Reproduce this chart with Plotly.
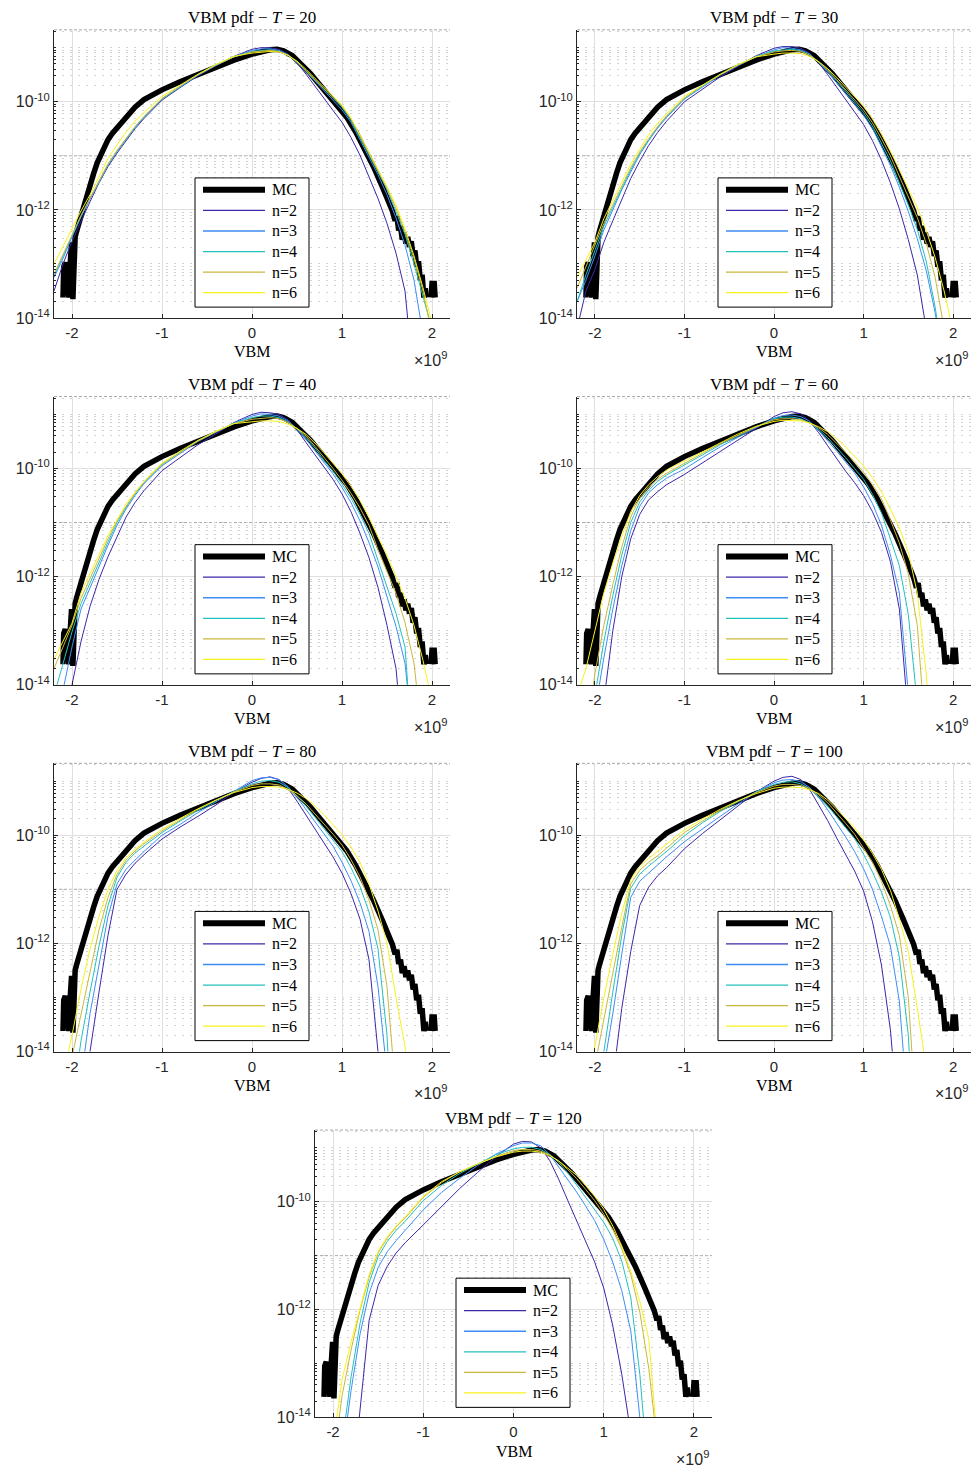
import plotly.graph_objects as go

W, H = 972, 1476

# ---------------- data (VBM in units of 1e9, pdf as log10 values) ----------------
VBM_GRID_E9 = [-2.2, -2.1, -2.0, -1.9, -1.8, -1.7, -1.6, -1.5, -1.4, -1.3, -1.2,
               -1.0, -0.8, -0.6, -0.4, -0.2,
               0.0, 0.1, 0.2, 0.3, 0.4, 0.5, 0.6, 0.7, 0.8, 0.9, 1.0, 1.1, 1.2, 1.3,
               1.4, 1.5, 1.6, 1.7, 1.8, 1.9, 2.0, 2.1, 2.2]

MC_VBM_E9 = [-2.100, -2.092, -2.075, -2.060, -2.048, -2.035, -2.020, -2.005, -1.990, -1.978,
             -1.965, -1.950, -1.930, -1.900, -1.870, -1.840, -1.800, -1.760, -1.720, -1.680,
             -1.640, -1.600, -1.550, -1.500, -1.450, -1.400, -1.300, -1.200, -1.100, -1.000,
             -0.800, -0.600, -0.400, -0.200, 0.000, 0.100, 0.200, 0.280, 0.350, 0.450,
             0.550, 0.650, 0.750, 0.850, 0.950, 1.050, 1.150, 1.250, 1.350, 1.450,
             1.520, 1.560, 1.590, 1.610, 1.630, 1.650, 1.670, 1.690, 1.710, 1.730,
             1.750, 1.770, 1.790, 1.810, 1.830, 1.850, 1.870, 1.890, 1.910, 1.925,
             1.940, None, 1.990, 2.000, 2.025, 2.035]
MC_LOG10_PDF = [-13.62, -13.05, -12.97, -13.25, -13.35, -13.62, -13.00, -12.60, -13.65, -12.70,
                -12.50, -12.40, -12.28, -12.10, -11.92, -11.75, -11.55, -11.33, -11.13, -10.97,
                -10.83, -10.70, -10.58, -10.48, -10.37, -10.27, -10.10, -9.96, -9.86, -9.78,
                -9.63, -9.49, -9.35, -9.23, -9.12, -9.07, -9.04, -9.03, -9.06, -9.15,
                -9.30, -9.48, -9.68, -9.88, -10.06, -10.28, -10.55, -10.87, -11.20, -11.58,
                -11.85, -12.02, -12.20, -12.12, -12.38, -12.30, -12.55, -12.42, -12.62, -12.50,
                -12.68, -12.58, -12.85, -12.75, -13.05, -12.95, -13.30, -13.20, -13.62, -13.45,
                -13.62, None, -13.62, -13.36, -13.36, -13.62]

T20_N2 = [-13.5, -13.0, -12.58, -12.2, -11.85, -11.5, -11.2, -10.95, -10.72, -10.5, -10.31,
          -9.97, -9.74, -9.52, -9.33, -9.16,
          -9.03, -9.0, -9.0, -9.03, -9.12, -9.28, -9.49, -9.72, -9.95, -10.16, -10.38, -10.66, -10.99, -11.38,
          -11.79, -12.25, -12.8, -13.5, -15.2, -16, -16, -16, -16]
T20_N3 = [-13.25, -12.9, -12.5, -12.13, -11.8, -11.47, -11.17, -10.92, -10.69, -10.48, -10.29,
          -9.95, -9.73, -9.51, -9.33, -9.17,
          -9.05, -9.02, -9.02, -9.05, -9.13, -9.27, -9.44, -9.62, -9.8, -9.98, -10.15, -10.38, -10.7, -11.0,
          -11.35, -11.72, -12.15, -12.65, -13.3, -14.3, -16, -16, -16]
T20_N4 = [-13.22, -12.85, -12.48, -12.12, -11.79, -11.46, -11.16, -10.91, -10.68, -10.47, -10.28,
          -9.95, -9.72, -9.5, -9.32, -9.17,
          -9.07, -9.05, -9.04, -9.07, -9.14, -9.27, -9.43, -9.6, -9.77, -9.94, -10.1, -10.35, -10.68, -10.98,
          -11.3, -11.62, -12.03, -12.45, -13.0, -13.62, -14.2, -16, -16]
T20_N5 = [-13.19, -12.82, -12.46, -12.1, -11.78, -11.45, -11.15, -10.9, -10.67, -10.46, -10.27,
          -9.94, -9.71, -9.5, -9.32, -9.17,
          -9.08, -9.06, -9.05, -9.07, -9.14, -9.26, -9.42, -9.59, -9.76, -9.92, -10.08, -10.32, -10.64, -10.95,
          -11.27, -11.6, -11.97, -12.4, -12.9, -13.5, -14.3, -16, -16]
T20_N6 = [-13.0, -12.67, -12.34, -12.02, -11.72, -11.38, -11.05, -10.8, -10.56, -10.36, -10.2,
          -9.9, -9.69, -9.49, -9.31, -9.16,
          -9.1, -9.08, -9.07, -9.08, -9.14, -9.25, -9.4, -9.57, -9.74, -9.9, -10.06, -10.3, -10.62, -10.92,
          -11.25, -11.57, -11.91, -12.35, -12.85, -13.44, -14.1, -16, -16]

T30_N2 = [-14.2, -13.5, -13.1, -12.6, -12.2, -11.8, -11.42, -11.1, -10.81, -10.57, -10.36,
          -10.0, -9.77, -9.54, -9.34, -9.15,
          -9.01, -8.98, -8.98, -9.01, -9.11, -9.28, -9.5, -9.73, -9.96, -10.18, -10.42, -10.72, -11.08, -11.5,
          -11.98, -12.55, -13.2, -14.2, -16, -16, -16, -16, -16]
T30_N3 = [-13.7, -13.3, -12.85, -12.37, -12.0, -11.63, -11.3, -10.98, -10.72, -10.49, -10.29,
          -9.95, -9.73, -9.51, -9.33, -9.17,
          -9.04, -9.0, -9.01, -9.04, -9.12, -9.27, -9.45, -9.64, -9.84, -10.04, -10.25, -10.5, -10.83, -11.18,
          -11.58, -12.03, -12.53, -13.12, -13.9, -15.0, -16, -16, -16]
T30_N4 = [-13.7, -13.2, -12.75, -12.3, -11.95, -11.59, -11.26, -10.95, -10.7, -10.47, -10.27,
          -9.94, -9.71, -9.5, -9.32, -9.16,
          -9.06, -9.04, -9.03, -9.06, -9.14, -9.27, -9.43, -9.61, -9.81, -10.0, -10.2, -10.45, -10.77, -11.09,
          -11.5, -11.91, -12.36, -12.95, -13.8, -15.0, -16, -16, -16]
T30_N5 = [-13.45, -13.05, -12.68, -12.25, -11.9, -11.55, -11.22, -10.93, -10.68, -10.46, -10.26,
          -9.93, -9.7, -9.5, -9.32, -9.17,
          -9.08, -9.06, -9.05, -9.07, -9.14, -9.26, -9.41, -9.59, -9.77, -9.96, -10.15, -10.39, -10.68, -11.0,
          -11.38, -11.75, -12.14, -12.62, -13.25, -14.2, -16, -16, -16]
T30_N6 = [-13.25, -12.92, -12.6, -12.16, -11.83, -11.48, -11.15, -10.88, -10.61, -10.4, -10.22,
          -9.9, -9.69, -9.49, -9.31, -9.17,
          -9.12, -9.1, -9.1, -9.11, -9.16, -9.26, -9.39, -9.55, -9.73, -9.9, -10.08, -10.32, -10.6, -10.91,
          -11.26, -11.59, -11.96, -12.38, -12.88, -13.5, -14.25, -16, -16]

T40_N2 = [-16, -16, -14.0, -13.2, -12.55, -12.05, -11.63, -11.25, -10.9, -10.63, -10.41,
          -10.04, -9.8, -9.56, -9.36, -9.15,
          -9.0, -8.96, -8.97, -9.0, -9.1, -9.28, -9.52, -9.75, -9.98, -10.2, -10.47, -10.8, -11.2, -11.65,
          -12.2, -12.9, -13.7, -15.5, -16, -16, -16, -16, -16]
T40_N3 = [-16, -14.1, -13.3, -12.6, -12.21, -11.8, -11.42, -11.05, -10.75, -10.5, -10.28,
          -9.95, -9.72, -9.5, -9.33, -9.16,
          -9.03, -8.99, -9.0, -9.03, -9.12, -9.27, -9.46, -9.67, -9.89, -10.1, -10.35, -10.63, -10.97, -11.37,
          -11.82, -12.35, -12.92, -13.6, -15.2, -16, -16, -16, -16]
T40_N4 = [-14.2, -13.6, -13.02, -12.5, -12.12, -11.72, -11.36, -11.0, -10.72, -10.47, -10.26,
          -9.93, -9.7, -9.49, -9.32, -9.16,
          -9.06, -9.03, -9.03, -9.06, -9.14, -9.27, -9.43, -9.62, -9.85, -10.05, -10.29, -10.55, -10.85, -11.2,
          -11.7, -12.2, -12.68, -13.3, -15.6, -16, -16, -16, -16]
T40_N5 = [-13.7, -13.3, -12.9, -12.4, -12.03, -11.65, -11.3, -10.97, -10.7, -10.46, -10.25,
          -9.92, -9.7, -9.49, -9.32, -9.17,
          -9.09, -9.07, -9.06, -9.08, -9.15, -9.26, -9.4, -9.59, -9.79, -10.0, -10.22, -10.46, -10.73, -11.05,
          -11.5, -11.9, -12.31, -12.85, -13.6, -15.1, -16, -16, -16]
T40_N6 = [-13.53, -13.2, -12.86, -12.3, -11.94, -11.57, -11.24, -10.95, -10.66, -10.44, -10.24,
          -9.9, -9.68, -9.48, -9.31, -9.17,
          -9.13, -9.12, -9.12, -9.13, -9.18, -9.26, -9.37, -9.53, -9.71, -9.9, -10.1, -10.33, -10.59, -10.9,
          -11.27, -11.6, -12.0, -12.4, -12.9, -13.55, -14.3, -16, -16]

T60_N2 = [-16, -16, -16, -14.3, -13.0, -12.0, -11.3, -10.85, -10.58, -10.43, -10.3,
          -10.11, -9.9, -9.68, -9.47, -9.26,
          -9.04, -8.97, -8.95, -8.99, -9.13, -9.34, -9.58, -9.82, -10.05, -10.26, -10.5, -10.8, -11.18, -11.72,
          -12.6, -14.6, -16, -16, -16, -16, -16, -16, -16]
T60_N3 = [-16, -16, -14.5, -13.5, -12.6, -11.8, -11.15, -10.7, -10.45, -10.3, -10.18,
          -10.01, -9.8, -9.6, -9.42, -9.24,
          -9.07, -9.02, -9.01, -9.04, -9.13, -9.3, -9.48, -9.68, -9.88, -10.08, -10.34, -10.65, -11.05, -11.6,
          -12.3, -14.2, -16, -16, -16, -16, -16, -16, -16]
T60_N4 = [-16, -16, -14.2, -13.2, -12.35, -11.6, -11.0, -10.62, -10.4, -10.24, -10.12,
          -9.94, -9.75, -9.56, -9.39, -9.23,
          -9.08, -9.05, -9.05, -9.08, -9.16, -9.28, -9.43, -9.61, -9.8, -10.0, -10.2, -10.48, -10.82, -11.3,
          -11.8, -12.7, -14.5, -16, -16, -16, -16, -16, -16]
T60_N5 = [-16, -15.0, -13.8, -12.9, -12.15, -11.45, -10.9, -10.55, -10.34, -10.2, -10.09,
          -9.9, -9.72, -9.54, -9.38, -9.23,
          -9.1, -9.08, -9.08, -9.1, -9.16, -9.25, -9.37, -9.53, -9.7, -9.88, -10.07, -10.3, -10.56, -10.95,
          -11.38, -11.95, -12.9, -15.1, -16, -16, -16, -16, -16]
T60_N6 = [-14.2, -13.7, -13.0, -12.3, -11.75, -11.25, -10.8, -10.5, -10.3, -10.15, -10.03,
          -9.86, -9.7, -9.52, -9.36, -9.22,
          -9.13, -9.11, -9.11, -9.12, -9.16, -9.23, -9.32, -9.45, -9.6, -9.77, -9.95, -10.17, -10.43, -10.75,
          -11.1, -11.55, -12.3, -13.8, -16, -16, -16, -16, -16]

T80_N2 = [-16, -16, -16, -15.5, -14.0, -12.9, -11.85, -11.0, -10.72, -10.52, -10.36,
          -10.07, -9.85, -9.65, -9.44, -9.2,
          -9.02, -8.95, -8.92, -8.97, -9.13, -9.37, -9.63, -9.9, -10.15, -10.4, -10.7, -11.08, -11.55, -12.3,
          -14.0, -16, -16, -16, -16, -16, -16, -16, -16]
T80_N3 = [-16, -16, -16, -14.5, -13.3, -12.4, -11.5, -10.9, -10.63, -10.46, -10.3,
          -10.0, -9.8, -9.58, -9.38, -9.18,
          -8.99, -8.94, -8.93, -8.97, -9.1, -9.3, -9.52, -9.74, -9.97, -10.2, -10.5, -10.84, -11.25, -11.78,
          -12.8, -14.5, -16, -16, -16, -16, -16, -16, -16]
T80_N4 = [-16, -16, -15.0, -13.8, -12.9, -12.05, -11.3, -10.78, -10.5, -10.33, -10.2,
          -9.95, -9.74, -9.54, -9.36, -9.19,
          -9.05, -9.0, -8.99, -9.02, -9.12, -9.27, -9.46, -9.67, -9.87, -10.07, -10.3, -10.6, -10.95, -11.42,
          -12.1, -13.7, -16.7, -16, -16, -16, -16, -16, -16]
T80_N5 = [-16, -16, -14.1, -13.3, -12.5, -11.75, -11.15, -10.72, -10.46, -10.29, -10.16,
          -9.92, -9.72, -9.52, -9.35, -9.2,
          -9.08, -9.05, -9.05, -9.07, -9.15, -9.27, -9.42, -9.6, -9.79, -9.98, -10.18, -10.45, -10.77, -11.2,
          -11.75, -12.8, -14.8, -16, -16, -16, -16, -16, -16]
T80_N6 = [-16, -14.45, -13.7, -12.85, -12.1, -11.5, -11.0, -10.65, -10.42, -10.26, -10.13,
          -9.89, -9.69, -9.51, -9.35, -9.21,
          -9.12, -9.1, -9.1, -9.11, -9.15, -9.22, -9.32, -9.46, -9.62, -9.8, -9.99, -10.22, -10.5, -10.9,
          -11.4, -12.0, -13.0, -13.9, -16, -16, -16, -16, -16]

T100_N2 = [-16, -16, -16, -16, -14.53, -13.2, -12.15, -11.3, -10.96, -10.75, -10.6,
           -10.25, -9.97, -9.71, -9.45, -9.2,
           -9.0, -8.93, -8.91, -8.97, -9.16, -9.44, -9.73, -10.05, -10.35, -10.66, -11.03, -11.6, -12.4, -13.6,
           -15.5, -16, -16, -16, -16, -16, -16, -16, -16]
T100_N3 = [-16, -16, -16, -14.3, -13.3, -12.2, -11.15, -10.85, -10.7, -10.56, -10.4,
           -10.12, -9.88, -9.65, -9.42, -9.2,
           -9.03, -8.98, -8.97, -9.01, -9.12, -9.3, -9.53, -9.77, -10.03, -10.3, -10.62, -11.0, -11.5, -12.05,
           -13.07, -15.2, -16, -16, -16, -16, -16, -16, -16]
T100_N4 = [-16, -16, -15.0, -14.0, -12.9, -11.85, -10.98, -10.72, -10.57, -10.44, -10.3,
           -10.01, -9.77, -9.56, -9.38, -9.2,
           -9.06, -9.02, -9.01, -9.05, -9.14, -9.28, -9.46, -9.65, -9.86, -10.06, -10.35, -10.68, -11.05, -11.52,
           -12.25, -13.7, -16.7, -16, -16, -16, -16, -16, -16]
T100_N5 = [-16, -16, -14.26, -13.4, -12.55, -11.7, -10.9, -10.65, -10.5, -10.38, -10.24,
           -9.95, -9.74, -9.54, -9.37, -9.21,
           -9.09, -9.06, -9.06, -9.08, -9.14, -9.25, -9.4, -9.58, -9.78, -9.98, -10.23, -10.5, -10.85, -11.3,
           -11.85, -13.0, -15.5, -16, -16, -16, -16, -16, -16]
T100_N6 = [-16, -15.0, -13.9, -13.0, -12.2, -11.45, -10.82, -10.58, -10.43, -10.3, -10.17,
           -9.9, -9.7, -9.52, -9.36, -9.23,
           -9.13, -9.11, -9.11, -9.12, -9.16, -9.23, -9.35, -9.52, -9.68, -9.86, -10.08, -10.34, -10.63, -11.02,
           -11.55, -12.15, -13.2, -14.3, -16, -16, -16, -16, -16]

T120_N2 = [-16, -16, -16, -16, -15.5, -13.8, -12.2, -11.55, -11.2, -10.95, -10.76,
           -10.43, -10.1, -9.76, -9.46, -9.17,
           -8.93, -8.88, -8.89, -9.0, -9.23, -9.58, -9.97, -10.36, -10.75, -11.12, -11.6, -12.3, -13.2, -14.3,
           -16, -16, -16, -16, -16, -16, -16, -16, -16]
T120_N3 = [-16, -16, -16, -14.75, -13.5, -12.45, -11.7, -11.22, -10.93, -10.72, -10.53,
           -10.15, -9.83, -9.57, -9.33, -9.12,
           -8.96, -8.91, -8.91, -8.96, -9.12, -9.35, -9.58, -9.82, -10.08, -10.35, -10.7, -11.12, -11.65, -12.4,
           -14.0, -16, -16, -16, -16, -16, -16, -16, -16]
T120_N4 = [-16, -16, -16, -14.5, -13.25, -12.25, -11.5, -11.02, -10.74, -10.53, -10.36,
           -9.98, -9.7, -9.48, -9.3, -9.13,
           -9.02, -8.99, -8.99, -9.03, -9.12, -9.27, -9.46, -9.69, -9.92, -10.15, -10.38, -10.68, -11.1, -11.78,
           -13.2, -15.2, -16, -16, -16, -16, -16, -16, -16]
T120_N5 = [-16, -16, -14.9, -13.6, -12.75, -12.0, -11.4, -10.95, -10.68, -10.47, -10.3,
           -9.92, -9.65, -9.45, -9.3, -9.16,
           -9.05, -9.03, -9.03, -9.06, -9.13, -9.25, -9.4, -9.57, -9.77, -9.98, -10.23, -10.52, -10.88, -11.35,
           -12.05, -13.1, -14.6, -16, -16, -16, -16, -16, -16]
T120_N6 = [-16, -16, -14.5, -13.3, -12.6, -11.95, -11.35, -10.92, -10.65, -10.45, -10.28,
           -9.9, -9.63, -9.45, -9.3, -9.17,
           -9.08, -9.06, -9.06, -9.08, -9.14, -9.24, -9.37, -9.51, -9.7, -9.9, -10.14, -10.45, -10.82, -11.29,
           -11.85, -12.55, -14.6, -16, -16, -16, -16, -16, -16]

T_VALUES = [20, 30, 40, 60, 80, 100, 120]
SERIES_NAMES = ["MC", "n=2", "n=3", "n=4", "n=5", "n=6"]
APPROX = [
    [T20_N2, T20_N3, T20_N4, T20_N5, T20_N6],
    [T30_N2, T30_N3, T30_N4, T30_N5, T30_N6],
    [T40_N2, T40_N3, T40_N4, T40_N5, T40_N6],
    [T60_N2, T60_N3, T60_N4, T60_N5, T60_N6],
    [T80_N2, T80_N3, T80_N4, T80_N5, T80_N6],
    [T100_N2, T100_N3, T100_N4, T100_N5, T100_N6],
    [T120_N2, T120_N3, T120_N4, T120_N5, T120_N6],
]
X_TICKS = [-2, -1, 0, 1, 2]
X_TICK_TEXT = ["-2", "-1", "0", "1", "2"]
Y_TICKS = [1e-14, 1e-12, 1e-10]
Y_TICK_TEXT = ["10<sup>-14</sup>", "10<sup>-12</sup>", "10<sup>-10</sup>"]

assert len(MC_VBM_E9) == len(MC_LOG10_PDF)
for group in APPROX:
    for s in group:
        assert len(s) == len(VBM_GRID_E9), len(s)

# ---------------- styling / geometry ----------------
SERIF = "Liberation Serif"
SANS = "Liberation Sans"
COLORS = ["#000000", "#3e26a8", "#3d8df5", "#22c0bd", "#c9b73c", "#f7f21c"]
WIDTHS = [5.5, 1, 1, 1, 1, 1]
LEGEND_WIDTHS = [6, 1.3, 1.3, 1.3, 1.3, 1.3]
AX_COLOR = "#262626"
Y_LOG_RANGE = [-14, -8.67]
# panel plot areas in px: (left, right, top, bottom)
PANEL_PX = [(54, 450, 30, 320), (577, 971, 30, 320),
            (54, 450, 399, 689), (577, 971, 399, 689),
            (54, 450, 768, 1058), (577, 971, 768, 1058),
            (315, 712, 1137, 1426)]


def px_x(p):
    return p / W


def px_y(p):
    return 1 - p / H


def to_pdf(vals):
    return [None if v is None else 10 ** v for v in vals]


fig = go.Figure()
layout = {}
annotations = []
shapes = []

for i, (T, curves) in enumerate(zip(T_VALUES, APPROX)):
    k = "" if i == 0 else str(i + 1)
    xa, ya = "x" + k, "y" + k
    l, r, t, b = PANEL_PX[i]

    series = [(MC_VBM_E9, MC_LOG10_PDF)] + [(VBM_GRID_E9, c) for c in curves]
    for (xs, ys), name, color, w in zip(series, SERIES_NAMES, COLORS, WIDTHS):
        fig.add_trace(go.Scatter(x=xs, y=to_pdf(ys), mode="lines", name=name,
                                 line=dict(color=color, width=w), xaxis=xa, yaxis=ya,
                                 showlegend=False, connectgaps=False))

    layout["xaxis" + k] = dict(
        domain=[px_x(l), px_x(r)], range=[-2.2, 2.2], anchor=ya,
        tickmode="array", tickvals=X_TICKS, ticktext=X_TICK_TEXT,
        showgrid=True, gridcolor="#dfdfdf", gridwidth=1, zeroline=False,
        showline=True, linecolor=AX_COLOR, linewidth=1, mirror=False,
        ticks="inside", ticklen=4, tickcolor=AX_COLOR, ticklabelstandoff=1,
        tickfont=dict(family=SANS, size=15, color=AX_COLOR),
    )
    layout["yaxis" + k] = dict(
        type="log", domain=[px_y(b), px_y(t)], range=Y_LOG_RANGE, anchor=xa,
        tickmode="array", tickvals=Y_TICKS, ticktext=Y_TICK_TEXT,
        showgrid=True, gridcolor="#dfdfdf", gridwidth=1, zeroline=False,
        showline=True, linecolor=AX_COLOR, linewidth=1, mirror=False,
        ticks="inside", ticklen=4, tickcolor=AX_COLOR,
        tickfont=dict(family=SANS, size=16, color=AX_COLOR),
        minor=dict(dtick="D1", ticks="inside", ticklen=2, tickcolor=AX_COLOR,
                   showgrid=True, gridcolor="#d2d2d2", griddash="2px,6px", gridwidth=1),
    )

    # title, axis label, exponent
    annotations.append(dict(x=px_x((l + r) / 2), y=px_y(t - 12), xref="paper", yref="paper",
                            text="VBM pdf \u2212 <i>T</i> = %d" % T, showarrow=False,
                            font=dict(family=SERIF, size=17, color="black"),
                            xanchor="center", yanchor="middle"))
    annotations.append(dict(x=px_x((l + r) / 2), y=px_y(b + 34), xref="paper", yref="paper",
                            text="VBM", showarrow=False,
                            font=dict(family=SERIF, size=16, color="black"),
                            xanchor="center", yanchor="middle"))
    annotations.append(dict(x=px_x(r - 1), y=px_y(b + 41), xref="paper", yref="paper",
                            text="\u00d710<sup>9</sup>", showarrow=False,
                            font=dict(family=SANS, size=16, color=AX_COLOR),
                            xanchor="right", yanchor="middle"))
    # darker dashed minor lines (1e-11 and top edge)
    frac = (-11 - Y_LOG_RANGE[0]) / (Y_LOG_RANGE[1] - Y_LOG_RANGE[0])
    yy = px_y(b) + frac * (px_y(t) - px_y(b))
    for yv in (yy, px_y(t)):
        shapes.append(dict(type="line", xref="paper", yref="paper", x0=px_x(l), x1=px_x(r),
                           y0=yv, y1=yv, layer="below",
                           line=dict(color="#a8a8a8", width=1, dash="3px,2px")))

    # legend box (drawn on the page, entries follow the trace names / colours)
    shapes.append(dict(type="rect", xref="paper", yref="paper",
                       x0=px_x(l + 141), x1=px_x(l + 255), y0=px_y(t + 279), y1=px_y(t + 149),
                       fillcolor="white", line=dict(color="black", width=1), layer="above"))
    for j, (name, color, lw) in enumerate(zip(SERIES_NAMES, COLORS, LEGEND_WIDTHS)):
        ypx = t + 161 + 20.7 * j
        shapes.append(dict(type="line", xref="paper", yref="paper",
                           x0=px_x(l + 149), x1=px_x(l + 211), y0=px_y(ypx), y1=px_y(ypx),
                           line=dict(color=color, width=lw), layer="above"))
        annotations.append(dict(x=px_x(l + 216), y=px_y(ypx), xref="paper", yref="paper",
                                text=name, showarrow=False, xanchor="left", yanchor="middle",
                                font=dict(family=SERIF, size=16, color="black")))

fig.update_layout(
    width=W, height=H, margin=dict(l=0, r=0, t=0, b=0),
    paper_bgcolor="white", plot_bgcolor="white", showlegend=False,
    annotations=annotations, shapes=shapes, **layout,
)

fig.write_html("out.html")
